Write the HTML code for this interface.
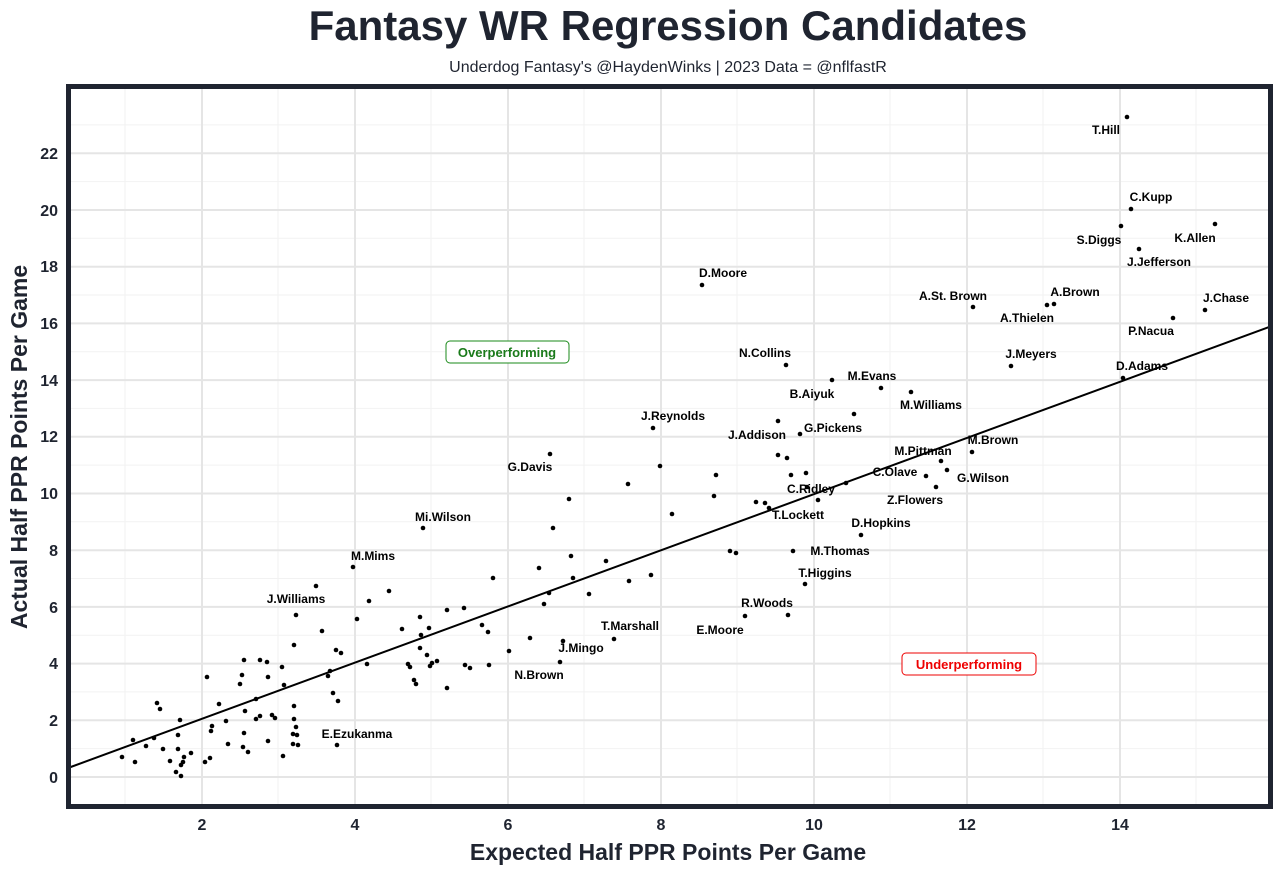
<!DOCTYPE html>
<html><head><meta charset="utf-8"><style>
body{margin:0;background:#fff;font-family:"Liberation Sans",Arial,sans-serif}
</style></head><body>
<svg width="1280" height="874" xmlns="http://www.w3.org/2000/svg" font-family="Liberation Sans, Arial, sans-serif">
<rect width="1280" height="874" fill="#fff"/>
<text x="668" y="40" text-anchor="middle" font-size="42" font-weight="bold" fill="#1f2430">Fantasy WR Regression Candidates</text>
<text x="668" y="72" text-anchor="middle" font-size="16" fill="#1f2430">Underdog Fantasy's @HaydenWinks | 2023 Data = @nflfastR</text>
<g stroke="#f2f2f2" stroke-width="1">
<line x1="125" y1="86" x2="125" y2="808"/><line x1="278" y1="86" x2="278" y2="808"/><line x1="431" y1="86" x2="431" y2="808"/><line x1="584" y1="86" x2="584" y2="808"/><line x1="737" y1="86" x2="737" y2="808"/><line x1="890" y1="86" x2="890" y2="808"/><line x1="1043" y1="86" x2="1043" y2="808"/><line x1="1196" y1="86" x2="1196" y2="808"/>
<line x1="68" y1="748.6" x2="1272" y2="748.6"/><line x1="68" y1="691.9" x2="1272" y2="691.9"/><line x1="68" y1="635.2" x2="1272" y2="635.2"/><line x1="68" y1="578.5" x2="1272" y2="578.5"/><line x1="68" y1="521.8" x2="1272" y2="521.8"/><line x1="68" y1="465.1" x2="1272" y2="465.1"/><line x1="68" y1="408.4" x2="1272" y2="408.4"/><line x1="68" y1="351.7" x2="1272" y2="351.7"/><line x1="68" y1="295" x2="1272" y2="295"/><line x1="68" y1="238.3" x2="1272" y2="238.3"/><line x1="68" y1="181.6" x2="1272" y2="181.6"/><line x1="68" y1="124.9" x2="1272" y2="124.9"/>
</g>
<g stroke="#e5e5e5" stroke-width="2">
<line x1="202" y1="86" x2="202" y2="808"/><line x1="355" y1="86" x2="355" y2="808"/><line x1="508" y1="86" x2="508" y2="808"/><line x1="661" y1="86" x2="661" y2="808"/><line x1="814" y1="86" x2="814" y2="808"/><line x1="967" y1="86" x2="967" y2="808"/><line x1="1120" y1="86" x2="1120" y2="808"/>
<line x1="68" y1="777" x2="1272" y2="777"/><line x1="68" y1="720.3" x2="1272" y2="720.3"/><line x1="68" y1="663.6" x2="1272" y2="663.6"/><line x1="68" y1="606.9" x2="1272" y2="606.9"/><line x1="68" y1="550.2" x2="1272" y2="550.2"/><line x1="68" y1="493.5" x2="1272" y2="493.5"/><line x1="68" y1="436.8" x2="1272" y2="436.8"/><line x1="68" y1="380.1" x2="1272" y2="380.1"/><line x1="68" y1="323.4" x2="1272" y2="323.4"/><line x1="68" y1="266.7" x2="1272" y2="266.7"/><line x1="68" y1="210" x2="1272" y2="210"/><line x1="68" y1="153.3" x2="1272" y2="153.3"/>
</g>
<line x1="68" y1="768" x2="1272" y2="326" stroke="#000" stroke-width="2"/>
<g fill="#000">
<circle cx="1127" cy="117" r="2.3"/><circle cx="1131" cy="209" r="2.3"/><circle cx="1121" cy="226" r="2.3"/><circle cx="1215" cy="224" r="2.3"/><circle cx="1139" cy="249" r="2.3"/><circle cx="702" cy="285" r="2.3"/><circle cx="973" cy="307" r="2.3"/><circle cx="1047" cy="305" r="2.3"/><circle cx="1054" cy="304" r="2.3"/><circle cx="1205" cy="310" r="2.3"/><circle cx="1173" cy="318" r="2.3"/><circle cx="786" cy="365" r="2.3"/><circle cx="1011" cy="366" r="2.3"/><circle cx="1123" cy="378" r="2.3"/><circle cx="881" cy="388" r="2.3"/><circle cx="832" cy="380" r="2.3"/><circle cx="911" cy="392" r="2.3"/><circle cx="653" cy="428" r="2.3"/><circle cx="778" cy="421" r="2.3"/><circle cx="800" cy="434" r="2.3"/><circle cx="550" cy="454" r="2.3"/><circle cx="941" cy="461" r="2.3"/><circle cx="972" cy="452" r="2.3"/><circle cx="926" cy="476" r="2.3"/><circle cx="947" cy="470" r="2.3"/><circle cx="936" cy="487" r="2.3"/><circle cx="423" cy="528" r="2.3"/><circle cx="861" cy="535" r="2.3"/><circle cx="353" cy="567" r="2.3"/><circle cx="793" cy="551" r="2.3"/><circle cx="805" cy="584" r="2.3"/><circle cx="296" cy="615" r="2.3"/><circle cx="788" cy="615" r="2.3"/><circle cx="614" cy="639" r="2.3"/><circle cx="745" cy="616" r="2.3"/><circle cx="563" cy="641" r="2.3"/><circle cx="560" cy="662" r="2.3"/><circle cx="337" cy="745" r="2.3"/>
<circle cx="854" cy="414" r="2.3"/><circle cx="660" cy="466" r="2.3"/><circle cx="716" cy="475" r="2.3"/><circle cx="628" cy="484" r="2.3"/><circle cx="714" cy="496" r="2.3"/><circle cx="569" cy="499" r="2.3"/><circle cx="672" cy="514" r="2.3"/><circle cx="553" cy="528" r="2.3"/><circle cx="778" cy="455" r="2.3"/><circle cx="787" cy="458" r="2.3"/><circle cx="791" cy="475" r="2.3"/><circle cx="806" cy="473" r="2.3"/><circle cx="807" cy="487" r="2.3"/><circle cx="846" cy="483" r="2.3"/><circle cx="818" cy="500" r="2.3"/><circle cx="756" cy="502" r="2.3"/><circle cx="765" cy="503" r="2.3"/><circle cx="769" cy="508" r="2.3"/><circle cx="730" cy="551" r="2.3"/><circle cx="736" cy="553" r="2.3"/><circle cx="571" cy="556" r="2.3"/><circle cx="606" cy="561" r="2.3"/><circle cx="539" cy="568" r="2.3"/><circle cx="651" cy="575" r="2.3"/><circle cx="573" cy="578" r="2.3"/><circle cx="629" cy="581" r="2.3"/><circle cx="493" cy="578" r="2.3"/><circle cx="549" cy="593" r="2.3"/><circle cx="589" cy="594" r="2.3"/><circle cx="544" cy="604" r="2.3"/><circle cx="316" cy="586" r="2.3"/><circle cx="389" cy="591" r="2.3"/><circle cx="369" cy="601" r="2.3"/><circle cx="357" cy="619" r="2.3"/><circle cx="464" cy="608" r="2.3"/><circle cx="447" cy="610" r="2.3"/><circle cx="420" cy="617" r="2.3"/><circle cx="429" cy="628" r="2.3"/><circle cx="322" cy="631" r="2.3"/><circle cx="402" cy="629" r="2.3"/><circle cx="482" cy="625" r="2.3"/><circle cx="488" cy="632" r="2.3"/><circle cx="530" cy="638" r="2.3"/><circle cx="509" cy="651" r="2.3"/><circle cx="421" cy="635" r="2.3"/><circle cx="420" cy="648" r="2.3"/><circle cx="294" cy="645" r="2.3"/><circle cx="336" cy="650" r="2.3"/><circle cx="341" cy="653" r="2.3"/><circle cx="427" cy="655" r="2.3"/><circle cx="432" cy="663" r="2.3"/><circle cx="437" cy="661" r="2.3"/><circle cx="430" cy="666" r="2.3"/><circle cx="408" cy="664" r="2.3"/><circle cx="410" cy="667" r="2.3"/><circle cx="465" cy="665" r="2.3"/><circle cx="470" cy="668" r="2.3"/><circle cx="489" cy="665" r="2.3"/><circle cx="367" cy="664" r="2.3"/><circle cx="330" cy="671" r="2.3"/><circle cx="328" cy="676" r="2.3"/><circle cx="414" cy="680" r="2.3"/><circle cx="416" cy="684" r="2.3"/><circle cx="447" cy="688" r="2.3"/><circle cx="333" cy="693" r="2.3"/><circle cx="338" cy="701" r="2.3"/><circle cx="244" cy="660" r="2.3"/><circle cx="260" cy="660" r="2.3"/><circle cx="267" cy="662" r="2.3"/><circle cx="282" cy="667" r="2.3"/><circle cx="207" cy="677" r="2.3"/><circle cx="242" cy="675" r="2.3"/><circle cx="268" cy="677" r="2.3"/><circle cx="240" cy="684" r="2.3"/><circle cx="284" cy="685" r="2.3"/><circle cx="256" cy="699" r="2.3"/><circle cx="219" cy="704" r="2.3"/><circle cx="245" cy="711" r="2.3"/><circle cx="260" cy="716" r="2.3"/><circle cx="294" cy="706" r="2.3"/><circle cx="294" cy="719" r="2.3"/><circle cx="256" cy="719" r="2.3"/><circle cx="272" cy="715" r="2.3"/><circle cx="275" cy="718" r="2.3"/><circle cx="226" cy="721" r="2.3"/><circle cx="212" cy="726" r="2.3"/><circle cx="211" cy="731" r="2.3"/><circle cx="180" cy="720" r="2.3"/><circle cx="296" cy="727" r="2.3"/><circle cx="293" cy="734" r="2.3"/><circle cx="297" cy="735" r="2.3"/><circle cx="293" cy="744" r="2.3"/><circle cx="298" cy="745" r="2.3"/><circle cx="157" cy="703" r="2.3"/><circle cx="160" cy="709" r="2.3"/><circle cx="244" cy="733" r="2.3"/><circle cx="268" cy="741" r="2.3"/><circle cx="228" cy="744" r="2.3"/><circle cx="133" cy="740" r="2.3"/><circle cx="154" cy="738" r="2.3"/><circle cx="146" cy="746" r="2.3"/><circle cx="178" cy="735" r="2.3"/><circle cx="163" cy="749" r="2.3"/><circle cx="243" cy="747" r="2.3"/><circle cx="248" cy="752" r="2.3"/><circle cx="178" cy="749" r="2.3"/><circle cx="191" cy="753" r="2.3"/><circle cx="184" cy="757" r="2.3"/><circle cx="122" cy="757" r="2.3"/><circle cx="135" cy="762" r="2.3"/><circle cx="170" cy="761" r="2.3"/><circle cx="183" cy="762" r="2.3"/><circle cx="181" cy="765" r="2.3"/><circle cx="210" cy="758" r="2.3"/><circle cx="205" cy="762" r="2.3"/><circle cx="283" cy="756" r="2.3"/><circle cx="176" cy="772" r="2.3"/><circle cx="181" cy="776" r="2.3"/>
</g>
<g font-size="12" font-weight="bold" fill="#000" text-anchor="middle">
<text x="1106" y="134">T.Hill</text><text x="1151" y="201">C.Kupp</text><text x="1099" y="244">S.Diggs</text><text x="1195" y="242">K.Allen</text><text x="1159" y="266">J.Jefferson</text><text x="723" y="277">D.Moore</text><text x="953" y="300">A.St. Brown</text><text x="1075" y="296">A.Brown</text><text x="1027" y="322">A.Thielen</text><text x="1226" y="302">J.Chase</text><text x="1151" y="335">P.Nacua</text><text x="765" y="357">N.Collins</text><text x="1031" y="358">J.Meyers</text><text x="1142" y="370">D.Adams</text><text x="872" y="380">M.Evans</text><text x="812" y="398">B.Aiyuk</text><text x="931" y="409">M.Williams</text><text x="673" y="420">J.Reynolds</text><text x="757" y="439">J.Addison</text><text x="833" y="432">G.Pickens</text><text x="530" y="471">G.Davis</text><text x="923" y="455">M.Pittman</text><text x="993" y="444">M.Brown</text><text x="895" y="476">C.Olave</text><text x="983" y="482">G.Wilson</text><text x="811" y="493">C.Ridley</text><text x="915" y="504">Z.Flowers</text><text x="443" y="521">Mi.Wilson</text><text x="798" y="519">T.Lockett</text><text x="881" y="527">D.Hopkins</text><text x="373" y="560">M.Mims</text><text x="840" y="555">M.Thomas</text><text x="825" y="577">T.Higgins</text><text x="296" y="603">J.Williams</text><text x="767" y="607">R.Woods</text><text x="630" y="630">T.Marshall</text><text x="720" y="634">E.Moore</text><text x="581" y="652">J.Mingo</text><text x="539" y="679">N.Brown</text><text x="357" y="738">E.Ezukanma</text>
</g>
<rect x="446" y="341" width="123" height="22" rx="4" fill="#fff" stroke="#1a8a1a"/>
<text x="507" y="357" text-anchor="middle" font-size="13" font-weight="bold" fill="#1a7a1a">Overperforming</text>
<rect x="902" y="653" width="134" height="22" rx="4" fill="#fff" stroke="#e00"/>
<text x="969" y="669" text-anchor="middle" font-size="13" font-weight="bold" fill="#e00">Underperforming</text>
<rect x="68.5" y="86.5" width="1202" height="720" fill="none" stroke="#1f2430" stroke-width="5"/>
<g font-size="16" font-weight="bold" fill="#1f2430" text-anchor="end">
<text x="58" y="783">0</text><text x="58" y="726">2</text><text x="58" y="669">4</text><text x="58" y="613">6</text><text x="58" y="556">8</text><text x="58" y="499">10</text><text x="58" y="442">12</text><text x="58" y="386">14</text><text x="58" y="329">16</text><text x="58" y="272">18</text><text x="58" y="216">20</text><text x="58" y="159">22</text>
</g>
<g font-size="16" font-weight="bold" fill="#1f2430" text-anchor="middle">
<text x="202" y="830">2</text><text x="355" y="830">4</text><text x="508" y="830">6</text><text x="661" y="830">8</text><text x="814" y="830">10</text><text x="967" y="830">12</text><text x="1120" y="830">14</text>
</g>
<text x="668" y="860" text-anchor="middle" font-size="23" font-weight="bold" fill="#1f2430">Expected Half PPR Points Per Game</text>
<text transform="translate(27,447) rotate(-90)" text-anchor="middle" font-size="23" font-weight="bold" fill="#1f2430">Actual Half PPR Points Per Game</text>
</svg>
</body></html>
